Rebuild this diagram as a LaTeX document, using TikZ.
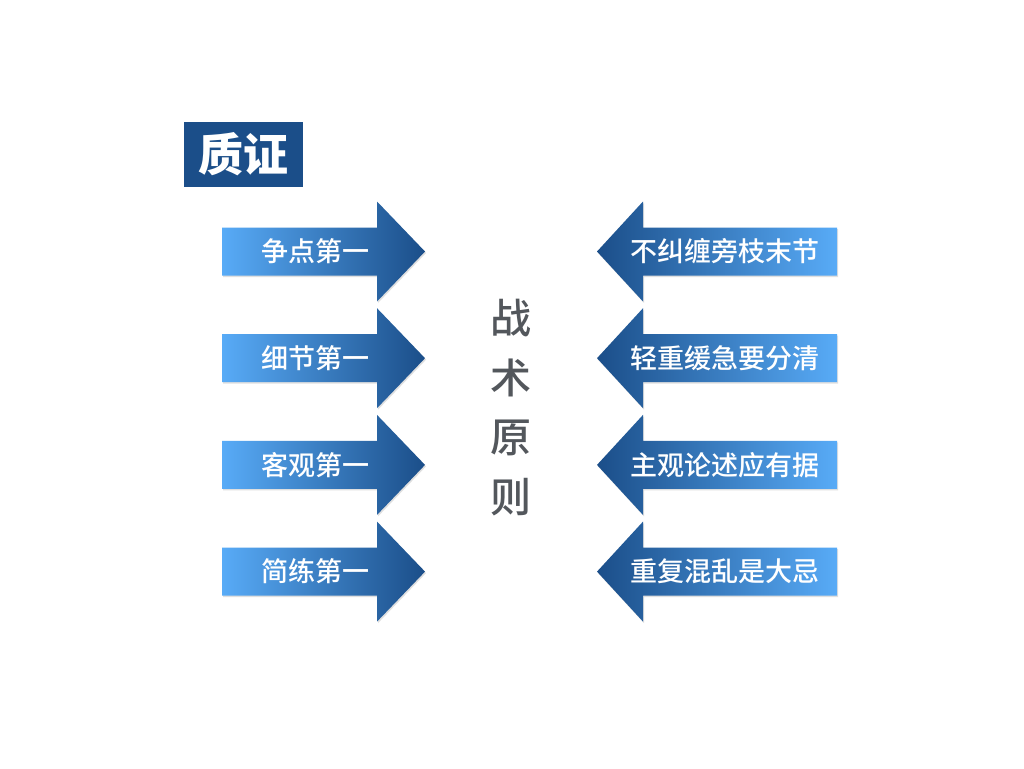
\documentclass[tikz,border=0pt]{standalone}
\usepackage{fontspec}
\newfontfamily\cjk{Noto Sans CJK SC}
\newfontfamily\cjkm{Noto Sans CJK SC Medium}
\usetikzlibrary{shadows}
\definecolor{zzdark}{HTML}{1B4E89}
\definecolor{zzlight}{HTML}{58ABF7}
\definecolor{zzgray}{HTML}{53575C}
\tikzset{
  arrowbody/.style={drop shadow={opacity=0.25,shadow xshift=1pt,shadow yshift=-1.5pt}},
  arrowtext/.style={text=white,inner sep=0pt,font=\cjkm\fontsize{27}{27}\selectfont},
}

\begin{document}
\begin{tikzpicture}[x=1pt,y=-1pt]
  \useasboundingbox[fill=white] (0,0) rectangle (1024,768);
  % title box
  \node[fill=zzdark,minimum width=119pt,minimum height=65pt,inner sep=0pt,text=white,
        font=\cjk\bfseries\fontsize{45}{45}\selectfont] (title) at (243.5,154.5) {质证};
  % left arrows, pointing right
  \foreach \i/\txt in {0/争点第一,1/细节第一,2/客观第一,3/简练第一}{
    \pgfmathsetmacro{\yc}{251.5+106.7*\i}
    \path[arrowbody,left color=zzlight,right color=zzdark]
      (222,{\yc-24}) -- (377,{\yc-24}) -- (377,{\yc-50}) -- (425,\yc)
      -- (377,{\yc+50}) -- (377,{\yc+24}) -- (222,{\yc+24}) -- cycle;
    \node[arrowtext] (left\i) at (315,\yc) {\txt};
  }
  % right arrows, pointing left
  \foreach \i/\txt in {0/不纠缠旁枝末节,1/轻重缓急要分清,2/主观论述应有据,3/重复混乱是大忌}{
    \pgfmathsetmacro{\yc}{251.5+106.7*\i}
    \path[arrowbody,left color=zzdark,right color=zzlight]
      (837,{\yc-24}) -- (643,{\yc-24}) -- (643,{\yc-50}) -- (597,\yc)
      -- (643,{\yc+50}) -- (643,{\yc+24}) -- (837,{\yc+24}) -- cycle;
    \node[arrowtext] (right\i) at (725,\yc) {\txt};
  }
  % vertical caption in the middle
  \node[align=center,inner sep=0pt,text=zzgray,font=\cjkm\fontsize{41}{59.5}\selectfont]
    (motto) at (510.5,407.5) {战\\术\\原\\则};
\end{tikzpicture}
\end{document}
